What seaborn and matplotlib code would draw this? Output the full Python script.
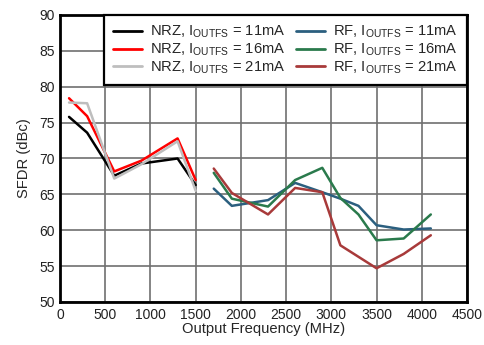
import matplotlib
matplotlib.use("Agg")
import matplotlib.pyplot as plt
import seaborn as sns
import pandas as pd

# ---- data ----
nrz_freq = [100, 300, 600, 900, 1300, 1500]
nrz_11 = [75.8, 73.6, 67.6, 69.3, 70.0, 66.3]
nrz_16 = [78.4, 75.9, 68.2, 69.7, 72.8, 67.0]
nrz_21 = [77.8, 77.7, 67.2, 69.2, 72.4, 65.5]

rf_freq = [1700, 1900, 2300, 2600, 2900, 3100, 3300, 3500, 3800, 4100]
rf_11 = [65.8, 63.4, 64.2, 66.6, 65.3, 64.4, 63.4, 60.7, 60.1, 60.25]
rf_16 = [68.0, 64.4, 63.3, 67.0, 68.7, 64.5, 62.2, 58.6, 58.85, 62.2]
rf21_freq = [1700, 1900, 2300, 2600, 2900, 3100, 3500, 3800, 4100]
rf_21 = [68.6, 65.2, 62.2, 65.9, 65.3, 57.9, 54.7, 56.7, 59.3]

labels = [r"NRZ, I$_{\mathregular{OUTFS}}$ = 11mA",
          r"NRZ, I$_{\mathregular{OUTFS}}$ = 16mA",
          r"NRZ, I$_{\mathregular{OUTFS}}$ = 21mA",
          r"RF, I$_{\mathregular{OUTFS}}$ = 11mA",
          r"RF, I$_{\mathregular{OUTFS}}$ = 16mA",
          r"RF, I$_{\mathregular{OUTFS}}$ = 21mA"]
colors = ["#000000", "#FF0000", "#BEBEBE", "#2B5F7F", "#2A7A4C", "#A83A3A"]

xs = [nrz_freq, nrz_freq, nrz_freq, rf_freq, rf_freq, rf21_freq]
ys = [nrz_11, nrz_16, nrz_21, rf_11, rf_16, rf_21]

rows = []
for lab, x, y in zip(labels, xs, ys):
    for xi, yi in zip(x, y):
        rows.append({"series": lab, "freq": xi, "sfdr": yi})
df = pd.DataFrame(rows)

sns.set_style("white")
plt.rcParams['font.family'] = ['Liberation Sans', 'DejaVu Sans']
plt.rcParams['mathtext.fontset'] = 'custom'
plt.rcParams['mathtext.rm'] = 'Liberation Sans'
plt.rcParams['mathtext.it'] = 'Liberation Sans'
plt.rcParams['mathtext.bf'] = 'Liberation Sans'

fig = plt.figure(figsize=(4.84, 3.45), dpi=100)
ax = fig.add_axes([60/484, 43/345, 407/484, 287/345])

sns.lineplot(data=df, x="freq", y="sfdr", hue="series", hue_order=labels,
             palette=dict(zip(labels, colors)), linewidth=1.8, ax=ax,
             estimator=None, sort=True)

ax.set_xlim(0, 4500)
ax.set_ylim(50, 90)
ax.set_xticks(range(0, 4501, 500))
ax.set_yticks(range(50, 91, 5))
ax.grid(True, color="#707070", linewidth=1.2)
ax.set_axisbelow(True)
for s in ax.spines.values():
    s.set_linewidth(2)
    s.set_color("black")
ax.tick_params(length=0, pad=4, labelsize=10, colors="#222222")
ax.set_xlabel("Output Frequency (MHz)", fontsize=10.6, labelpad=0)
ax.set_ylabel("SFDR (dBc)", fontsize=10.6, labelpad=6)

leg = ax.legend(loc="upper right", ncol=2, fontsize=10.6, frameon=True,
                borderaxespad=0, fancybox=False, framealpha=1,
                handlelength=2.0, labelspacing=0.1, columnspacing=0.7,
                borderpad=0.6, handletextpad=0.55)
leg.get_frame().set_edgecolor("black")
leg.get_frame().set_linewidth(1.6)
for h in leg.get_lines():
    h.set_linewidth(2)

fig.savefig("out.png", dpi=100)
